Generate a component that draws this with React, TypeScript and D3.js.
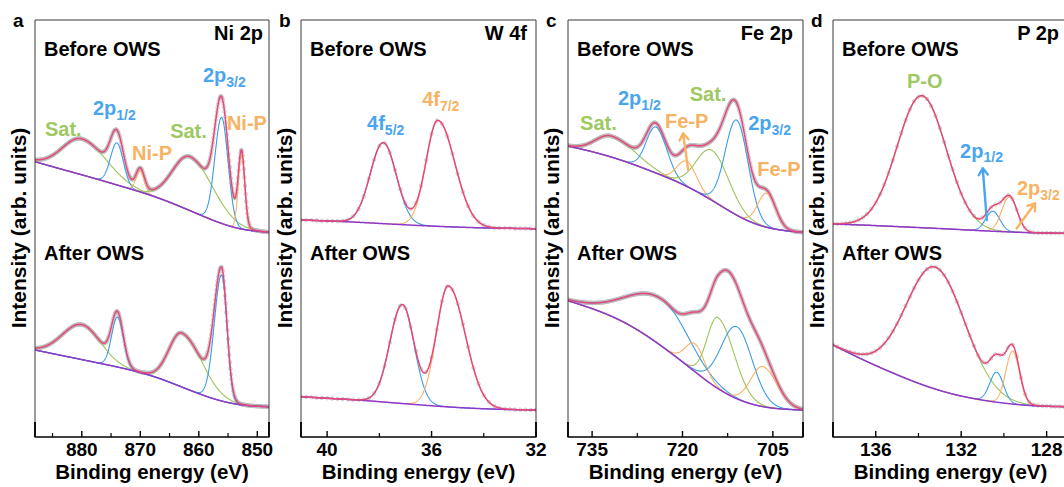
import React, { useEffect, useRef } from 'react';
import * as d3 from 'd3';

// values: binding energy (eV) and intensity (arb. units)
// background: intensity sampled evenly across the energy window (high BE -> low BE)
// peaks: [centre eV, height above background, sigma high-BE side, sigma low-BE side, component]

const NI_RANGE = [888, 848];
const NI_TICKS = [880, 870, 860, 850];
const NI_MINOR = [885, 875, 865, 855];
const NI_BEFORE_BG = [275.3, 267, 259, 250.3, 241.7, 230.3, 217.3, 207, 204.7];
const NI_BEFORE_PEAKS = [
  [880.0, 36, 3.3, 4.2, 'Sat'],
  [874.0, 42, 1.1, 1.1, 'Ni2p'],
  [870.0, 21, 0.7, 0.7, 'NiP'],
  [861.5, 54, 3.0, 3.9, 'Sat'],
  [856.1, 106, 1.15, 1.1, 'Ni2p'],
  [852.7, 74, 0.55, 0.55, 'NiP'],
];
const NI_AFTER_BG = [87, 81, 75, 69, 61.7, 50.3, 38.5, 31.3, 30.3];
const NI_AFTER_PEAKS = [
  [880.0, 35, 3.3, 3.2, 'Sat'],
  [873.9, 50, 1.0, 1.0, 'Ni2p'],
  [862.9, 54, 2.2, 3.45, 'Sat'],
  [856.1, 126, 1.25, 0.9, 'Ni2p'],
];

const W_RANGE = [41, 32];
const W_TICKS = [40, 36, 32];
const W_MINOR = [38, 34];
const W_BEFORE_BG = [217, 216, 214.7, 213, 211.5, 210.2, 209.2, 208.7, 208.3];
const W_BEFORE_PEAKS = [
  [37.85, 81, 0.5, 0.5, 'W4f5'],
  [35.76, 106, 0.45, 0.65, 'W4f7'],
];
const W_AFTER_BG = [40.3, 38.5, 37, 34.5, 32.2, 30, 28.4, 27.5, 27];
const W_AFTER_PEAKS = [
  [37.12, 99, 0.48, 0.45, 'W4f5'],
  [35.36, 121, 0.45, 0.65, 'W4f7'],
];

const FE_RANGE = [739, 700];
const FE_TICKS = [735, 720, 705];
const FE_MINOR = [727.5, 712.5];
const FE_BEFORE_BG = [291, 284.3, 275.3, 264, 252, 235.3, 216.3, 207, 204.7];
const FE_BEFORE_PEAKS = [
  [731.8, 21, 2.6, 4.0, 'Sat'],
  [724.4, 46, 1.6, 1.8, 'Fe2p'],
  [719.3, 25, 1.6, 1.6, 'FeP'],
  [715.1, 50, 2.6, 2.8, 'Sat'],
  [711.0, 95, 1.9, 1.9, 'Fe2p'],
  [706.0, 34, 1.5, 1.5, 'FeP'],
];
const FE_AFTER_BG = [136.3, 127, 114.3, 95.3, 73, 49, 33.7, 28, 27];
const FE_AFTER_PEAKS = [
  [723.3, 47, 5.7, 4.4, 'Fe2p'],
  [717.9, 28, 1.6, 1.6, 'FeP'],
  [714.1, 71, 1.8, 2.7, 'Sat'],
  [711.0, 72, 2.6, 2.6, 'Fe2p'],
  [706.7, 40, 2.0, 2.4, 'FeP'],
];

const P_RANGE = [138, 127];
const P_TICKS = [136, 132, 128];
const P_MINOR = [134, 130];
const P_BEFORE_BG = [213, 212, 210.7, 209.3, 208, 206.3, 205, 204, 203.7];
const P_BEFORE_PEAKS = [
  [133.85, 132, 1.15, 1.15, 'PO'],
  [130.52, 20, 0.33, 0.33, 'P2p1'],
  [129.74, 35, 0.36, 0.36, 'P2p3'],
];
const P_AFTER_BG = [92, 77.3, 64.3, 52.3, 43, 37, 33, 30.7, 30.3];
const P_AFTER_PEAKS = [
  [133.22, 122, 1.35, 1.4, 'PO'],
  [130.34, 30, 0.32, 0.32, 'P2p1'],
  [129.59, 53, 0.32, 0.32, 'P2p3'],
];

const GREEN = '#9cc55c';
const BLUE = '#3d9ce8';
const ORANGE = '#f8b163';
const PINK = '#e6487b';
const PURPLE = '#9138cc';
const TXT_GREEN = '#9dc862';
const TXT_BLUE = '#4aa5ef';
const TXT_ORANGE = '#f8b263';

const COMP_COLOR = {
  Sat: GREEN, PO: GREEN,
  Ni2p: BLUE, Fe2p: BLUE, W4f5: BLUE, P2p1: BLUE,
  NiP: ORANGE, FeP: ORANGE, W4f7: ORANGE, P2p3: ORANGE,
};

const FONT = '"Liberation Sans", Arial, Helvetica, sans-serif';
const TOP = 20;
const BOTTOM = 437;

// labels: [text, subscript, energy, intensity, colour]
const PANELS = [
  {
    letter: 'a', title: 'Ni 2p', left: 35, right: 269, titleInset: 6,
    range: NI_RANGE, ticks: NI_TICKS, minor: NI_MINOR, dotStep: 0.1,
    before: { bg: NI_BEFORE_BG, peaks: NI_BEFORE_PEAKS },
    after: { bg: NI_AFTER_BG, peaks: NI_AFTER_PEAKS },
    labels: [
      ['Sat.', '', 886.3, 301, TXT_GREEN],
      ['2p', '1/2', 878.1, 322, TXT_BLUE],
      ['Ni-P', '', 871.4, 277, TXT_ORANGE],
      ['Sat.', '', 864.9, 299, TXT_GREEN],
      ['2p', '3/2', 859.3, 355, TXT_BLUE],
      ['Ni-P', '', 855.2, 307, TXT_ORANGE],
    ],
    arrows: [],
  },
  {
    letter: 'b', title: 'W 4f', left: 301, right: 536, titleInset: 9,
    range: W_RANGE, ticks: W_TICKS, minor: W_MINOR, dotStep: 0.2,
    before: { bg: W_BEFORE_BG, peaks: W_BEFORE_PEAKS },
    after: { bg: W_AFTER_BG, peaks: W_AFTER_PEAKS },
    labels: [
      ['4f', '5/2', 38.47, 307, TXT_BLUE],
      ['4f', '7/2', 36.36, 331, TXT_ORANGE],
    ],
    arrows: [],
  },
  {
    letter: 'c', title: 'Fe 2p', left: 568, right: 803, titleInset: 10,
    range: FE_RANGE, ticks: FE_TICKS, minor: FE_MINOR, dotStep: 0.1,
    before: { bg: FE_BEFORE_BG, peaks: FE_BEFORE_PEAKS },
    after: { bg: FE_AFTER_BG, peaks: FE_AFTER_PEAKS },
    labels: [
      ['Sat.', '', 737.0, 307, TXT_GREEN],
      ['2p', '1/2', 730.7, 332, TXT_BLUE],
      ['Fe-P', '', 722.9, 309, TXT_ORANGE],
      ['Sat.', '', 718.8, 336, TXT_GREEN],
      ['2p', '3/2', 709.1, 307, TXT_BLUE],
      ['Fe-P', '', 707.6, 261, TXT_ORANGE],
    ],
    arrows: [[719.05, 267, 719.9, 303.7, TXT_ORANGE]],
  },
  {
    letter: 'd', title: 'P 2p', left: 833, right: 1068, titleInset: 9,
    range: P_RANGE, ticks: P_TICKS, minor: P_MINOR, dotStep: 0.2,
    before: { bg: P_BEFORE_BG, peaks: P_BEFORE_PEAKS },
    after: { bg: P_AFTER_BG, peaks: P_AFTER_PEAKS },
    labels: [
      ['P-O', '', 134.54, 349, TXT_GREEN],
      ['2p', '1/2', 132.05, 279.3, TXT_BLUE],
      ['2p', '3/2', 129.39, 242, TXT_ORANGE],
    ],
    arrows: [
      [130.8, 217, 130.99, 268.7, TXT_BLUE],
      [129.4, 208.7, 128.54, 233.7, TXT_ORANGE],
    ],
  },
];

function peakAt(pk, e) {
  const [c, h, sH, sL] = pk;
  const d = e - c;
  const s = d > 0 ? sH : sL;
  return h * Math.exp(-(d * d) / (2 * s * s));
}

function drawPanel(svg, p) {
  const x = d3.scaleLinear().domain(p.range).range([p.left, p.right]);
  const y = d3.scaleLinear().domain([0, BOTTOM - TOP]).range([BOTTOM, TOP]);
  const [e0, e1] = p.range;

  const clipId = 'clip-' + p.letter;
  svg.append('clipPath').attr('id', clipId)
    .append('rect')
    .attr('x', p.left).attr('y', TOP)
    .attr('width', p.right - p.left).attr('height', BOTTOM - TOP);

  const plot = svg.append('g').attr('clip-path', `url(#${clipId})`);
  const energies = d3.range(0, 801).map(i => e0 + (e1 - e0) * i / 800);
  const line = d3.line().x(d => x(d[0])).y(d => y(d[1]));

  [p.before, p.after].forEach(spec => {
    const bgFn = d3.interpolateBasis(spec.bg);
    const bg = e => bgFn((e0 - e) / (e0 - e1));
    const env = e => bg(e) + d3.sum(spec.peaks, pk => peakAt(pk, e));

    // measured points
    plot.append('g').selectAll('circle')
      .data(d3.range(e1, e0 + 1e-6, p.dotStep))
      .enter().append('circle')
      .attr('cx', e => x(e))
      .attr('cy', e => y(env(e)))
      .attr('r', 1.7)
      .attr('fill', 'none')
      .attr('stroke', '#bdbdbd')
      .attr('stroke-width', 0.8);

    spec.peaks.forEach(pk => {
      plot.append('path')
        .attr('d', line(energies.map(e => [e, bg(e) + peakAt(pk, e)])))
        .attr('fill', 'none')
        .attr('stroke', COMP_COLOR[pk[4]])
        .attr('stroke-width', 1.1);
    });

    plot.append('path')
      .attr('d', line(energies.map(e => [e, bg(e)])))
      .attr('fill', 'none')
      .attr('stroke', PURPLE)
      .attr('stroke-width', 1.5);

    plot.append('path')
      .attr('d', line(energies.map(e => [e, env(e)])))
      .attr('fill', 'none')
      .attr('stroke', PINK)
      .attr('stroke-width', 1.5);
  });

  // frame
  svg.append('path')
    .attr('d', `M${p.left},${BOTTOM} V${TOP} H${p.right} V${BOTTOM}`)
    .attr('fill', 'none')
    .attr('stroke', '#3a3a3a')
    .attr('stroke-width', 1);
  svg.append('line')
    .attr('x1', p.left - 0.5).attr('x2', p.right + 0.5)
    .attr('y1', BOTTOM).attr('y2', BOTTOM)
    .attr('stroke', '#000').attr('stroke-width', 1.6);
  [p.left, p.right].forEach(xx => {
    svg.append('line')
      .attr('x1', xx).attr('x2', xx)
      .attr('y1', BOTTOM - 15).attr('y2', BOTTOM)
      .attr('stroke', '#000').attr('stroke-width', 1.8);
  });

  // ticks
  p.ticks.forEach(t => {
    svg.append('line')
      .attr('x1', x(t)).attr('x2', x(t))
      .attr('y1', BOTTOM).attr('y2', BOTTOM - 6)
      .attr('stroke', '#000').attr('stroke-width', 1.4);
    svg.append('text')
      .attr('x', x(t)).attr('y', 455.5)
      .attr('text-anchor', 'middle')
      .attr('font-family', FONT).attr('font-weight', 'bold').attr('font-size', 19)
      .text(t);
  });
  p.minor.forEach(t => {
    svg.append('line')
      .attr('x1', x(t)).attr('x2', x(t))
      .attr('y1', BOTTOM).attr('y2', BOTTOM - 4)
      .attr('stroke', '#000').attr('stroke-width', 1.2);
  });

  const txt = (tx, ty, s, size, anchor = 'start', color = '#000') =>
    svg.append('text')
      .attr('x', tx).attr('y', ty)
      .attr('text-anchor', anchor)
      .attr('font-family', FONT).attr('font-weight', 'bold')
      .attr('font-size', size).attr('fill', color)
      .text(s);

  txt((p.left + p.right) / 2, 479, 'Binding energy (eV)', 20.5, 'middle');
  svg.append('text')
    .attr('transform', `translate(${p.left - 9},228) rotate(-90)`)
    .attr('text-anchor', 'middle')
    .attr('font-family', FONT).attr('font-weight', 'bold').attr('font-size', 21)
    .text('Intensity (arb. units)');
  txt(p.left - 22, 27, p.letter, 19);
  txt(p.right - p.titleInset, 40, p.title, 20, 'end');
  txt(p.left + 9, 56, 'Before OWS', 20);
  txt(p.left + 9, 260, 'After OWS', 20);

  p.labels.forEach(([main, sub, e, v, color]) => {
    const t = svg.append('text')
      .attr('x', x(e)).attr('y', y(v))
      .attr('font-family', FONT).attr('font-weight', 'bold')
      .attr('font-size', 20).attr('fill', color);
    t.append('tspan').text(main);
    if (sub) t.append('tspan').attr('font-size', 14).attr('dy', 4.5).text(sub);
  });

  p.arrows.forEach(([ea, va, eb, vb, color]) => {
    const xa = x(ea), ya = y(va), xb = x(eb), yb = y(vb);
    const ang = Math.atan2(yb - ya, xb - xa);
    const len = 8;
    const w1 = [xb - len * Math.cos(ang - 0.6), yb - len * Math.sin(ang - 0.6)];
    const w2 = [xb - len * Math.cos(ang + 0.6), yb - len * Math.sin(ang + 0.6)];
    svg.append('path')
      .attr('d', `M${xa},${ya} L${xb},${yb} M${w1[0]},${w1[1]} L${xb},${yb} L${w2[0]},${w2[1]}`)
      .attr('fill', 'none')
      .attr('stroke', color)
      .attr('stroke-width', 2.4)
      .attr('stroke-linecap', 'round')
      .attr('stroke-linejoin', 'round');
  });
}

export default function App() {
  const ref = useRef(null);

  useEffect(() => {
    const svg = d3.select(ref.current);
    svg.selectAll('*').remove();
    PANELS.forEach(p => drawPanel(svg, p));
  }, []);

  return (
    <svg
      ref={ref}
      width={1064}
      height={487}
      style={{ position: 'absolute', left: 0, top: 0, background: '#fff' }}
    />
  );
}
